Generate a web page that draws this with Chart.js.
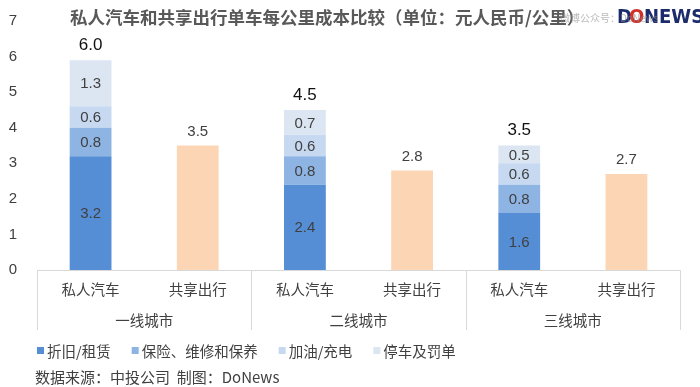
<!DOCTYPE html>
<html>
<head>
<meta charset="utf-8">
<script src="https://cdn.jsdelivr.net/npm/chart.js@4/dist/chart.umd.min.js"></script>
<style>
  body { margin: 0; background: #fff; }
</style>
</head>
<body>
<canvas id="c" width="700" height="387"></canvas>
<script>
// 数据
const cities = ['一线城市', '二线城市', '三线城市'];
const modes = ['私人汽车', '共享出行'];
const carDepreciation = [3.2, 2.4, 1.6];
const carInsurance = [0.8, 0.8, 0.8];
const carFuel = [0.6, 0.6, 0.6];
const carParking = [1.3, 0.7, 0.5];
const carTotals = ['6.0', '4.5', '3.5'];
const sharedCost = [3.5, 2.8, 2.7];
const yTicks = [0, 1, 2, 3, 4, 5, 6, 7];

const seriesNames = ['折旧/租赁', '保险、维修和保养', '加油/充电', '停车及罚单'];
const seriesColors = ['#558ED5', '#8EB4E3', '#C6D9F1', '#DCE6F2'];

const FONT = '"Noto Sans CJK SC", "Noto Sans", sans-serif';
const NUM = '"Liberation Sans", Arial, sans-serif';

// 私人汽车 / 共享出行 交替排列
const labels = [];
cities.forEach(() => modes.forEach(m => labels.push(m)));
const carOnly = arr => arr.flatMap(v => [v, null]);
const sharedOnly = arr => arr.flatMap(v => [null, v]);

const overlay = {
    id: 'overlay',
    afterDatasetsDraw(chart) {
        const ctx = chart.ctx;
        ctx.save();
        ctx.textAlign = 'center';
        ctx.textBaseline = 'middle';
        // 分段数值
        for (let d = 0; d < 4; d++) {
            const meta = chart.getDatasetMeta(d);
            meta.data.forEach((bar, i) => {
                const v = chart.data.datasets[d].data[i];
                if (v == null) return;
                ctx.fillStyle = '#404040';
                ctx.font = '15px ' + NUM;
                ctx.fillText(v.toFixed(1), bar.x, (bar.y + bar.base) / 2 + 1);
            });
        }
        // 共享出行数值
        const sm = chart.getDatasetMeta(4);
        sm.data.forEach((bar, i) => {
            const v = chart.data.datasets[4].data[i];
            if (v == null) return;
            ctx.fillStyle = '#404040';
            ctx.font = '15px ' + NUM;
            ctx.fillText(v.toFixed(1), bar.x, bar.y - 14);
        });
        // 合计
        const tm = chart.getDatasetMeta(3);
        let k = 0;
        tm.data.forEach((bar, i) => {
            if (chart.data.datasets[3].data[i] == null) return;
            ctx.fillStyle = '#111';
            ctx.font = '17px ' + NUM;
            ctx.fillText(carTotals[k++], bar.x, bar.y - 15);
        });
        ctx.restore();
    },
    afterDraw(chart) {
        const ctx = chart.ctx;
        const x = chart.scales.x;
        const area = chart.chartArea;
        ctx.save();

        // 标题
        ctx.fillStyle = '#595959';
        ctx.font = 'bold 17.5px ' + FONT;
        ctx.textAlign = 'left';
        ctx.textBaseline = 'middle';
        ctx.fillText('私人汽车和共享出行单车每公里成本比较（单位：元人民币/公里）', 70, 17);

        // 水印 + 标志
        ctx.font = 'bold 20px "Liberation Sans Narrow", "DejaVu Sans Condensed", sans-serif';
        ctx.fillStyle = '#1b2b6b';
        ctx.fillText('D', 617, 18);
        ctx.fillStyle = '#d0302a';
        ctx.fillText('O', 629, 18);
        ctx.fillStyle = '#1b2b6b';
        ctx.fillText('NEWS', 644, 18);
        ctx.fillStyle = 'rgba(140,140,140,0.6)';
        ctx.font = '10px ' + FONT;
        ctx.fillText('微博公众号：DoNews', 560, 18);

        // 类别标签
        ctx.fillStyle = '#404040';
        ctx.font = '14.5px ' + FONT;
        ctx.textAlign = 'center';
        labels.forEach((l, i) => ctx.fillText(l, x.getPixelForValue(i), 289));

        // 分组标签与分隔线
        const half = (x.getPixelForValue(1) - x.getPixelForValue(0)) / 2;
        ctx.strokeStyle = '#d9d9d9';
        ctx.lineWidth = 1;
        cities.forEach((c, g) => {
            const left = x.getPixelForValue(g * 2) - half;
            const right = x.getPixelForValue(g * 2 + 1) + half;
            ctx.fillText(c, (left + right) / 2, 320);
            [left, right].forEach(px => {
                ctx.beginPath();
                ctx.moveTo(Math.round(px) + 0.5, area.bottom);
                ctx.lineTo(Math.round(px) + 0.5, 330);
                ctx.stroke();
            });
        });

        // 图例
        ctx.textAlign = 'left';
        let lx = 37;
        seriesNames.forEach((n, i) => {
            ctx.fillStyle = seriesColors[i];
            ctx.fillRect(lx, 347, 7, 7);
            ctx.fillStyle = '#404040';
            ctx.fillText(n, lx + 10, 351);
            lx += 10 + ctx.measureText(n).width + 21;
        });

        // 数据来源
        ctx.font = '15px ' + FONT;
        ctx.fillStyle = '#404040';
        ctx.fillText('数据来源：中投公司  制图：DoNews', 35, 377);
        ctx.restore();
    }
};

const datasets = [
    { label: seriesNames[0], data: carOnly(carDepreciation), backgroundColor: seriesColors[0] },
    { label: seriesNames[1], data: carOnly(carInsurance), backgroundColor: seriesColors[1] },
    { label: seriesNames[2], data: carOnly(carFuel), backgroundColor: seriesColors[2] },
    { label: seriesNames[3], data: carOnly(carParking), backgroundColor: seriesColors[3] },
    { label: '共享出行', data: sharedOnly(sharedCost), backgroundColor: '#FCD5B5' }
];

new Chart(document.getElementById('c'), {
    type: 'bar',
    data: { labels, datasets },
    plugins: [overlay],
    options: {
        responsive: false,
        animation: false,
        devicePixelRatio: 1,
        layout: { padding: { top: 6, right: 20, bottom: 57, left: 0 } },
        datasets: { bar: { barPercentage: 0.39, categoryPercentage: 1, skipNull: false } },
        plugins: { legend: { display: false }, title: { display: false }, tooltip: { enabled: false } },
        scales: {
            x: {
                stacked: true,
                grid: { display: false },
                border: { display: true, color: '#d9d9d9' },
                ticks: { display: false },
                afterFit(s) { s.height = 60; }
            },
            y: {
                stacked: true,
                min: 0,
                max: 7,
                afterBuildTicks(s) { s.ticks = yTicks.map(v => ({ value: v })); },
                grid: { display: false },
                border: { display: false },
                ticks: { color: '#404040', font: { size: 15, family: NUM }, padding: 12 },
                afterFit(s) { s.width = 37; }
            }
        }
    }
});
</script>
</body>
</html>
